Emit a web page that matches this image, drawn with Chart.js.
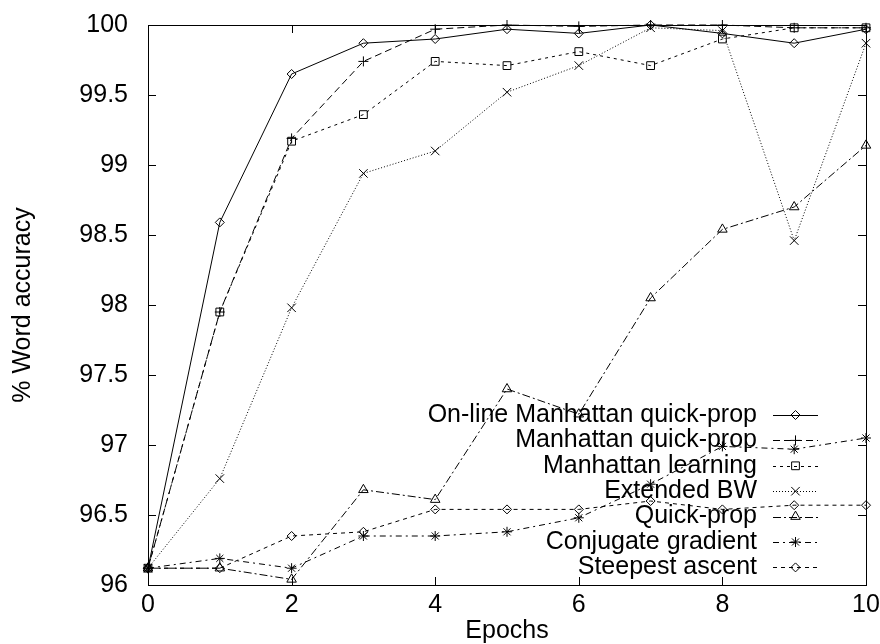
<!DOCTYPE html>
<html>
<head>
<meta charset="utf-8">
<script src="https://cdn.jsdelivr.net/npm/chart.js@4.4.0/dist/chart.umd.min.js"></script>
<style>
  body { margin: 0; background: #fff; }
</style>
</head>
<body>
<canvas id="accuracyChart" width="880" height="644"></canvas>
<script>
// Word accuracy (%) after each training epoch
const epochs = [0, 1, 2, 3, 4, 5, 6, 7, 8, 9, 10];
const onlineManhattanQuickProp = [96.12, 98.59, 99.65, 99.87, 99.90, 99.97, 99.94, 100.0, 99.94, 99.87, 99.97];
const manhattanQuickProp = [96.12, 97.95, 99.19, 99.74, 99.97, 100.0, 99.99, 100.0, 100.0, 99.98, 99.98];
const manhattanLearning = [96.12, 97.95, 99.17, 99.36, 99.74, 99.71, 99.81, 99.71, 99.90, 99.98, 99.98];
const extendedBW = [96.12, 96.76, 97.98, 98.94, 99.10, 99.52, 99.71, 99.98, 99.96, 98.46, 99.87];
const quickProp = [96.12, 96.12, 96.04, 96.68, 96.61, 97.40, 97.22, 98.05, 98.54, 98.70, 99.14];
const conjugateGradient = [96.12, 96.19, 96.12, 96.35, 96.35, 96.38, 96.48, 96.72, 96.99, 96.97, 97.05];
const steepestAscent = [96.12, 96.12, 96.35, 96.38, 96.54, 96.54, 96.54, 96.60, 96.54, 96.57, 96.57];

const seriesLabels = [
  'On-line Manhattan quick-prop',
  'Manhattan quick-prop',
  'Manhattan learning',
  'Extended BW',
  'Quick-prop',
  'Conjugate gradient',
  'Steepest ascent'
];
const seriesValues = [onlineManhattanQuickProp, manhattanQuickProp, manhattanLearning,
  extendedBW, quickProp, conjugateGradient, steepestAscent];

// gnuplot-like line types and point symbols
const dashes = [[], [7, 4], [3, 4], [1, 2], [8, 3, 2, 3], [6, 4, 2, 4], [4, 4]];
const markers = ['rectRot', 'cross', 'rect', 'crossRot', 'triangle', 'star', 'rectRot'];
const markerSizes = [4.5, 5, 5.5, 6, 5.5, 5, 4.5];

const FONT = { family: '"Liberation Sans", Arial, sans-serif', size: 25 };

const datasets = seriesLabels.map((label, i) => ({
  label: label,
  data: epochs.map((x, j) => ({ x: x, y: seriesValues[i][j] })),
  borderColor: '#000',
  borderWidth: 1,
  borderDash: dashes[i],
  pointStyle: markers[i],
  pointRadius: markerSizes[i],
  pointBorderColor: '#000',
  pointBackgroundColor: 'rgba(0,0,0,0)',
  pointBorderWidth: 1,
  tension: 0,
  fill: false,
  clip: false
}));

// frame with inward ticks on all four sides, plus the key
const framePlugin = {
  id: 'frame',
  afterDatasetsDraw(chart) {
    const ctx = chart.ctx;
    const a = chart.chartArea;
    const xs = chart.scales.x, ys = chart.scales.y;
    const len = 8;
    ctx.save();
    ctx.strokeStyle = '#000';
    ctx.lineWidth = 1;
    ctx.setLineDash([]);
    ctx.strokeRect(a.left + 0.5, a.top + 0.5, a.right - a.left, a.bottom - a.top);
    ctx.beginPath();
    ys.ticks.forEach(t => {
      const py = Math.round(ys.getPixelForValue(t.value)) + 0.5;
      ctx.moveTo(a.left, py); ctx.lineTo(a.left + len, py);
      ctx.moveTo(a.right, py); ctx.lineTo(a.right - len, py);
    });
    xs.ticks.forEach(t => {
      const px = Math.round(xs.getPixelForValue(t.value)) + 0.5;
      ctx.moveTo(px, a.bottom); ctx.lineTo(px, a.bottom - len);
      ctx.moveTo(px, a.top); ctx.lineTo(px, a.top + len);
    });
    ctx.stroke();

    // key: right-aligned text, line sample with its symbol to the right
    const textRight = 757, sampleL = 773, sampleR = 818, top = 415, step = 25.4;
    ctx.font = FONT.size + 'px ' + FONT.family;
    ctx.textAlign = 'right';
    ctx.textBaseline = 'middle';
    ctx.fillStyle = '#000';
    chart.data.datasets.forEach((ds, i) => {
      const y = top + i * step;
      ctx.fillText(ds.label, textRight, y);
      ctx.setLineDash(ds.borderDash);
      ctx.beginPath();
      ctx.moveTo(sampleL, Math.round(y) + 0.5);
      ctx.lineTo(sampleR, Math.round(y) + 0.5);
      ctx.stroke();
      ctx.setLineDash([]);
      ctx.fillStyle = 'rgba(0,0,0,0)';
      Chart.helpers.drawPoint(ctx, {
        pointStyle: ds.pointStyle, radius: ds.pointRadius, rotation: 0, borderWidth: 1
      }, (sampleL + sampleR) / 2, y);
      ctx.fillStyle = '#000';
    });
    ctx.restore();
  }
};

// invisible tick marks only reserve the gap between axis and labels
const hiddenTicks = (len) => ({
  display: true, drawOnChartArea: false, drawTicks: true,
  tickLength: len, tickColor: 'rgba(0,0,0,0)'
});

const accuracyCtx = document.getElementById('accuracyChart').getContext('2d');

const accuracyChart = new Chart(accuracyCtx, {
  type: 'line',
  data: { datasets: datasets },
  plugins: [framePlugin],
  options: {
    responsive: false,
    animation: false,
    layout: { autoPadding: false, padding: { left: 0, right: 14, top: 25, bottom: 0 } },
    plugins: {
      legend: { display: false },
      tooltip: { enabled: false }
    },
    scales: {
      x: {
        type: 'linear',
        min: 0,
        max: 10,
        ticks: { stepSize: 2, color: '#000', font: FONT, padding: 0, maxRotation: 0 },
        grid: hiddenTicks(5),
        border: { display: false },
        title: { display: true, text: 'Epochs', color: '#000',
          font: { family: FONT.family, size: FONT.size, lineHeight: 1.0 }, padding: { top: 0, bottom: 0 } },
        afterFit(scale) { scale.height = 59; }
      },
      y: {
        min: 96,
        max: 100,
        ticks: { stepSize: 0.5, color: '#000', font: FONT, padding: 0, callback: v => String(v) },
        grid: hiddenTicks(20),
        border: { display: false },
        title: { display: true, text: '% Word accuracy', color: '#000', font: FONT, padding: { top: 8, bottom: 0 } },
        afterFit(scale) { scale.width = 148; }
      }
    }
  }
});
</script>
</body>
</html>
